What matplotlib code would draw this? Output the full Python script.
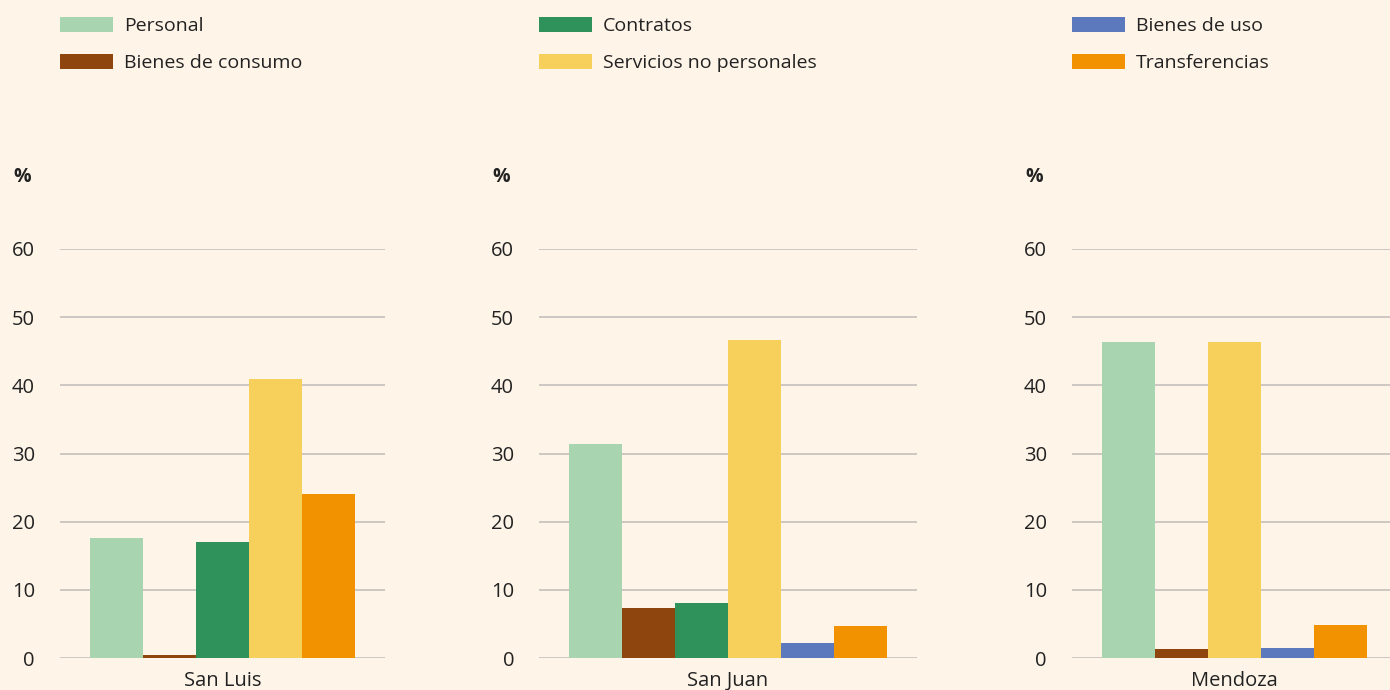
import matplotlib as mpl
import matplotlib.pyplot as plt
from matplotlib.patches import Patch

# data
provincias = ['San Luis', 'San Juan', 'Mendoza']
rubros = ['Personal', 'Bienes de consumo', 'Contratos',
          'Servicios no personales', 'Bienes de uso', 'Transferencias']
colores = ['#a8d4af', '#8f460e', '#2e925a', '#f6d05a', '#5b79bc', '#f29200']
# None = rubro sin barra en esa provincia
san_luis = [17.6, 0.4, 17.0, 40.9, None, 24.0]
san_juan = [31.4, 7.3, 8.1, 46.6, 2.2, 4.7]
mendoza = [46.3, 1.3, None, 46.3, 1.5, 4.8]
valores = [san_luis, san_juan, mendoza]
yticks = [0, 10, 20, 30, 40, 50, 60]

# font settings
mpl.rcParams['font.family'] = ['Open Sans', 'DejaVu Sans']
bg = '#fef4e8'
grid_color = '#c4c0bb'
text_color = '#222222'

W, H = 1390, 690
fig = plt.figure(figsize=(W / 100, H / 100), dpi=100, facecolor=bg)

# axes layout in pixels (left, width)
px_bar = 53
margin = 30
lefts = [60, 539, 1072]
y0, y60 = 658, 249

for i, (prov, vals) in enumerate(zip(provincias, valores)):
    idx = [k for k, v in enumerate(vals) if v is not None]
    n = len(idx)
    width_px = n * px_bar + 2 * margin
    ax = fig.add_axes([lefts[i] / W, (H - y0) / H, width_px / W, (y0 - y60) / H])
    ax.set_facecolor(bg)
    for j, k in enumerate(idx):
        ax.bar(j, vals[k], width=1.0, color=colores[k], zorder=3)
    pad = margin / px_bar
    ax.set_xlim(-0.5 - pad, n - 0.5 + pad)
    ax.set_ylim(0, 60)
    ax.set_yticks(yticks)
    ax.set_yticklabels([str(t) for t in yticks], fontsize=14.5, color=text_color)
    ax.tick_params(axis='y', length=0, pad=18)
    for lab in ax.get_yticklabels():
        lab.set_verticalalignment('center_baseline')
    ax.set_xticks([])
    ax.set_xlabel(prov, fontsize=14.5, color=text_color, labelpad=9)
    ax.grid(axis='y', color=grid_color, lw=1.2, zorder=0)
    ax.set_axisbelow(True)
    for s in ax.spines.values():
        s.set_visible(False)
    fig.text((lefts[i] - 47) / W, 1 - 177 / H, '%', fontsize=14, fontweight='bold',
             color=text_color, ha='left', va='center')

# legend: three columns of two entries
for c in range(3):
    handles = [Patch(facecolor=colores[2 * c + r], edgecolor='none', label=rubros[2 * c + r])
               for r in range(2)]
    fig.legend(handles=handles, loc='upper left',
               bbox_to_anchor=(lefts[c] / W, 1 - 17 / H),
               frameon=False, fontsize=14, borderpad=0, borderaxespad=0,
               handlelength=2.73, handleheight=0.82, handletextpad=0.55,
               labelspacing=0.97, labelcolor=text_color)

fig.savefig('out.png', dpi=100, facecolor=bg)
